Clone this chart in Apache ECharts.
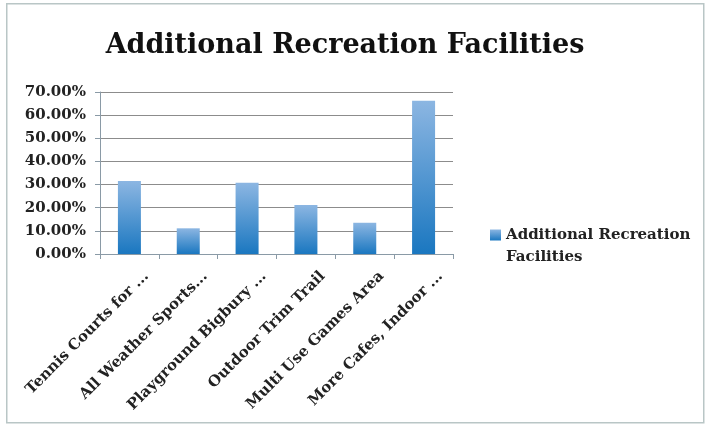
<!DOCTYPE html>
<html>
<head>
<meta charset="utf-8">
<script src="https://cdn.jsdelivr.net/npm/echarts@6/dist/echarts.min.js"></script>
<style>html,body{margin:0;padding:0;background:#fff}#c{width:706px;height:425px}</style>
</head>
<body>
<div id="c"></div>
<script>
const titleText = "Additional Recreation Facilities";
const seriesName = "Additional Recreation Facilities";
const categories = ["Tennis Courts for ...", "All Weather Sports...", "Playground Bigbury ...", "Outdoor Trim Trail", "Multi Use Games Area", "More Cafes, Indoor ..."];
const values = [31.5, 11.1, 30.8, 21.2, 13.5, 66.2];
const yTicks = [0, 10, 20, 30, 40, 50, 60, 70];

const chart = echarts.init(document.getElementById('c'), null, {renderer: 'canvas'});
const font = "'DejaVu Serif', 'Liberation Serif', serif";
chart.setOption({
  backgroundColor: '#fff',
  animation: false,
  graphic: [{
    type: 'rect', left: 6, top: 3, z: -1,
    shape: {width: 697, height: 419},
    style: {fill: '#fff', stroke: '#b9c6c6', lineWidth: 1.5}
  }],
  title: {
    text: titleText, left: 340, top: 27, textAlign: 'center',
    textStyle: {fontFamily: font, fontWeight: 'bold', fontSize: 27, color: '#111'}
  },
  legend: {
    left: 490, top: 202, orient: 'vertical', padding: 0,
    itemWidth: 11, itemHeight: 11, itemGap: 6,
    icon: 'rect',
    formatter: () => '\nAdditional Recreation\nFacilities',
    textStyle: {fontFamily: font, fontWeight: 'bold', fontSize: 15, color: '#222', lineHeight: 22}
  },
  grid: {left: 100, top: 92, width: 353, height: 162, containLabel: false, outerBoundsMode: 'none'},
  xAxis: {
    type: 'category', data: categories,
    axisLine: {lineStyle: {color: '#8a9aa6', width: 1}},
    axisTick: {show: true, length: 5, lineStyle: {color: '#8a9aa6'}},
    axisLabel: {
      rotate: 45, interval: 0, margin: 3, lineHeight: 48,
      formatter: v => '\n' + v,
      fontFamily: font, fontWeight: 'bold', fontSize: 15, color: '#222'
    }
  },
  yAxis: {
    type: 'value', min: 0, max: 70, interval: 10,
    axisLine: {show: true, lineStyle: {color: '#8a9aa6', width: 1}},
    axisTick: {show: true, length: 5, lineStyle: {color: '#8a9aa6'}},
    splitLine: {lineStyle: {color: '#8c8c8c', width: 1}},
    axisLabel: {
      margin: 14, fontFamily: font, fontWeight: 'bold', fontSize: 15, color: '#222',
      formatter: v => v.toFixed(2) + '%'
    }
  },
  series: [{
    name: seriesName, type: 'bar', data: values, barWidth: 23,
    itemStyle: {
      color: new echarts.graphic.LinearGradient(0, 0, 0, 1, [
        {offset: 0, color: '#8cb6e2'},
        {offset: 1, color: '#1a77c0'}
      ])
    }
  }]
});
</script>
</body>
</html>
